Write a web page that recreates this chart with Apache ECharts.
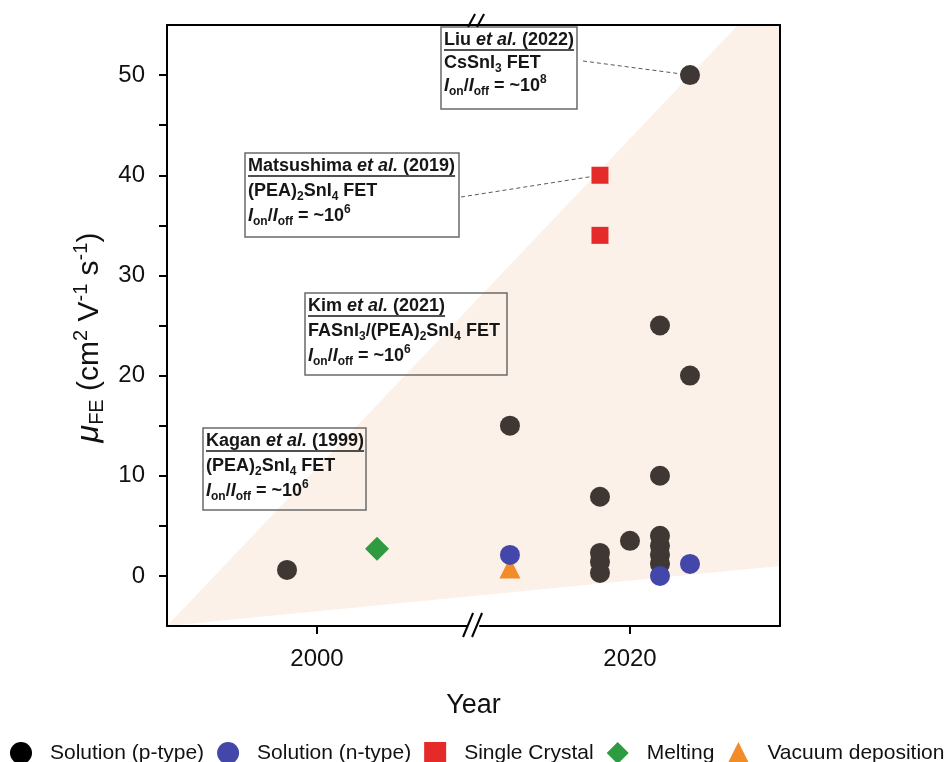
<!DOCTYPE html>
<html><head><meta charset="utf-8">
<script src="https://cdn.jsdelivr.net/npm/echarts@6/dist/echarts.min.js"></script>
<style>html,body{margin:0;padding:0;background:#fff}#c{width:952px;height:762px}</style>
</head><body><div id="c"></div>
<script>
const FONT = '"Liberation Sans", Arial, Helvetica, sans-serif';

// ---- data ----
const pTypeYears    = [1999, 2016, 2019, 2019, 2019, 2019, 2020, 2021, 2021, 2021, 2021, 2021, 2021, 2022, 2022];
const pTypeMobility = [0.6,  15,   7.9,  2.3,  1.4,  0.3,  3.5,  25,   10,   4.0,  3.0,  2.1,  1.2,  50,   20];
const nTypeYears    = [2016, 2021, 2022];
const nTypeMobility = [2.1,  0.0,  1.2];
const crystalYears    = [2019, 2019];
const crystalMobility = [40,   34];
const meltYears    = [2002];
const meltMobility = [2.7];
const vacYears    = [2016];
const vacMobility = [0.8];
const wedgeYears    = [1995, 2023.6, 2025, 2025];
const wedgeMobility = [-5,   55,     55,   1.0];
const xTickValues = [2000, 2020];
const yLabelValues = [0, 10, 20, 30, 40, 50];
const yTickValues = [0, 5, 10, 15, 20, 25, 30, 35, 40, 45, 50];
const seriesNames = ['Solution (p-type)', 'Solution (n-type)', 'Single Crystal', 'Melting', 'Vacuum deposition'];

const zip = (a, b) => a.map((v, i) => [v, b[i]]);

const chart = echarts.init(document.getElementById('c'), null, {renderer: 'canvas'});

const axisLineStyle = {color: '#000', width: 2};

const option = {
  animation: false,
  backgroundColor: '#fff',
  textStyle: {fontFamily: FONT},
  grid: {left: 167, right: 172, top: 25, bottom: 136, containLabel: false},
  xAxis: [{
    type: 'value', min: 1995, max: 2025, z: 10,
    breaks: [{start: 2005, end: 2015, gap: 0.43}],
    breakArea: {show: false},
    axisLine: {show: true, onZero: false, lineStyle: axisLineStyle},
    axisTick: {show: true, customValues: xTickValues, length: 8, inside: false, lineStyle: {color: '#000', width: 2}},
    axisLabel: {customValues: xTickValues, fontSize: 24, color: '#111', fontFamily: FONT, margin: 21,
                formatter: v => String(Math.round(v))},
    splitLine: {show: false},
    name: 'Year', nameLocation: 'middle', nameGap: 66,
    nameTextStyle: {fontSize: 27, color: '#111', fontFamily: FONT}
  }, {
    type: 'value', position: 'top', min: 0, max: 1, z: 10,
    axisLine: {show: true, onZero: false, lineStyle: axisLineStyle},
    axisTick: {show: false}, axisLabel: {show: false}, splitLine: {show: false}
  }],
  yAxis: [{
    type: 'value', min: -5, max: 55, interval: 5, z: 10,
    axisLine: {show: true, onZero: false, lineStyle: axisLineStyle},
    axisTick: {show: true, customValues: yTickValues, length: 8, inside: false, lineStyle: {color: '#000', width: 2}},
    axisLabel: {customValues: yLabelValues, fontSize: 24, color: '#111', fontFamily: FONT, margin: 22},
    splitLine: {show: false},
    name: '{i|μ}{sub|FE}{n| (cm}{sup|2}{n| V}{sup|-1}{n| s}{sup|-1}{n|)}',
    nameLocation: 'middle', nameRotate: 90, nameGap: 56,
    nameTextStyle: {
      fontSize: 30, color: '#111', fontFamily: FONT, padding: [0, 24, 0, 0],
      rich: {
        i: {fontSize: 32, fontStyle: 'italic', color: '#111', fontFamily: FONT, lineHeight: 36, verticalAlign: 'middle'},
        n: {fontSize: 30, color: '#111', fontFamily: FONT, lineHeight: 36, verticalAlign: 'middle'},
        sub: {fontSize: 20, color: '#111', fontFamily: FONT, lineHeight: 20, verticalAlign: 'bottom'},
        sup: {fontSize: 20, color: '#111', fontFamily: FONT, lineHeight: 20, verticalAlign: 'top'}
      }
    }
  }, {
    type: 'value', position: 'right', min: 0, max: 1, z: 10,
    axisLine: {show: true, onZero: false, lineStyle: axisLineStyle},
    axisTick: {show: false}, axisLabel: {show: false}, splitLine: {show: false}
  }],
  legend: {
    left: 5, right: 0, top: 737, itemWidth: 22, itemHeight: 22, itemGap: 13,
    textStyle: {fontSize: 21, color: '#111', fontFamily: FONT, padding: [0, 0, 0, 13]},
    data: [
      {name: seriesNames[0], icon: 'circle', itemStyle: {color: '#000'}},
      {name: seriesNames[1], icon: 'circle'},
      {name: seriesNames[2], icon: 'rect'},
      {name: seriesNames[3], icon: 'diamond'},
      {name: seriesNames[4], icon: 'triangle'}
    ]
  },
  series: [
    {
      name: 'wedge', type: 'custom', z: 1, silent: true,
      data: zip(wedgeYears, wedgeMobility),
      renderItem: function (params, api) {
        if (params.dataIndex !== 0) return null;
        const pts = wedgeYears.map((y, i) => api.coord([y, wedgeMobility[i]]));
        return {type: 'polygon', shape: {points: pts}, style: {fill: '#fcf1e8'}};
      }
    },
    {name: seriesNames[0], type: 'scatter', z: 3, symbol: 'circle', symbolSize: 20,
     itemStyle: {color: '#3e3733', opacity: 1}, data: zip(pTypeYears, pTypeMobility)},
    {name: seriesNames[4], type: 'scatter', z: 3, symbol: 'triangle', symbolSize: 21,
     itemStyle: {color: '#f28c28', opacity: 1}, data: zip(vacYears, vacMobility)},
    {name: seriesNames[1], type: 'scatter', z: 4, symbol: 'circle', symbolSize: 20,
     itemStyle: {color: '#4347aa', opacity: 1}, data: zip(nTypeYears, nTypeMobility)},
    {name: seriesNames[2], type: 'scatter', z: 3, symbol: 'rect', symbolSize: 17,
     itemStyle: {color: '#e52a2a', opacity: 1}, data: zip(crystalYears, crystalMobility)},
    {name: seriesNames[3], type: 'scatter', z: 3, symbol: 'diamond', symbolSize: 24,
     itemStyle: {color: '#2e9b41', opacity: 1}, data: zip(meltYears, meltMobility)}
  ]
};
chart.setOption(option);

// ---- annotations ----
const notes = [
  {t: ['Liu ', 'et al.', ' (2022)'], l2: '{b|CsSnI}{sub|3}{b| FET}', exp: '8', target: [2022, 50],
   box: [441, 27, 136, 82], anchor: [583, 61], lh: 23},
  {t: ['Matsushima ', 'et al.', ' (2019)'], l2: '{b|(PEA)}{sub|2}{b|SnI}{sub|4}{b| FET}', exp: '6', target: [2019, 40],
   box: [245, 153, 214, 84], anchor: [461, 197], lh: 25},
  {t: ['Kim ', 'et al.', ' (2021)'], l2: '{b|FASnI}{sub|3}{b|/(PEA)}{sub|2}{b|SnI}{sub|4}{b| FET}', exp: '6', target: [2021, 25],
   box: [305, 293, 202, 82], anchor: [509, 338], lh: 25},
  {t: ['Kagan ', 'et al.', ' (1999)'], l2: '{b|(PEA)}{sub|2}{b|SnI}{sub|4}{b| FET}', exp: '6', target: [1999, 0.6],
   box: [203, 428, 163, 82], anchor: [292, 512], lh: 25}
];
const TC = '#161616';
const rich = {
  b: {fontSize: 18, fontWeight: 'bold', fontFamily: FONT, fill: TC, lineHeight: 24, verticalAlign: 'middle'},
  bi: {fontSize: 18, fontWeight: 'bold', fontStyle: 'italic', fontFamily: FONT, fill: TC, lineHeight: 24, verticalAlign: 'middle'},
  sub: {fontSize: 12, fontWeight: 'bold', fontFamily: FONT, fill: TC, lineHeight: 12, verticalAlign: 'bottom'},
  sup: {fontSize: 12, fontWeight: 'bold', fontFamily: FONT, fill: TC, lineHeight: 12, verticalAlign: 'top'}
};
const cv = document.createElement('canvas').getContext('2d');
function w(txt, italic) { cv.font = (italic ? 'italic ' : '') + 'bold 18px ' + FONT; return cv.measureText(txt).width; }

const g = [];
notes.forEach(n => {
  const [bx, by, bw, bh] = n.box;
  g.push({type: 'rect', shape: {x: bx, y: by, width: bw, height: bh},
          style: {fill: 'rgba(0,0,0,0)', stroke: '#6a6a6a', lineWidth: 1.5}, z: 5});
  const tx = bx + 3, y1 = by + 13;
  g.push({type: 'text', x: tx, y: y1, z: 6, style: {
    text: '{b|' + n.t[0] + '}{bi|' + n.t[1] + '}{b|' + n.t[2] + '}', rich: rich,
    verticalAlign: 'middle', align: 'left', fill: TC}});
  const uw = w(n.t[0]) + w(n.t[1], true) + w(n.t[2]);
  g.push({type: 'line', z: 6, shape: {x1: tx, y1: y1 + 10, x2: tx + uw, y2: y1 + 10}, style: {stroke: TC, lineWidth: 1.5}});
  g.push({type: 'text', x: tx, y: y1 + n.lh, z: 6, style: {text: n.l2, rich: rich, verticalAlign: 'middle', align: 'left', fill: TC}});
  g.push({type: 'text', x: tx, y: y1 + 2 * n.lh, z: 6, style: {
    text: '{bi|I}{sub|on}{b|/}{bi|I}{sub|off}{b| = ~10}{sup|' + n.exp + '}', rich: rich,
    verticalAlign: 'middle', align: 'left', fill: TC}});
  const p = chart.convertToPixel({xAxisIndex: 0, yAxisIndex: 0}, n.target);
  g.push({type: 'line', z: 0, shape: {x1: n.anchor[0], y1: n.anchor[1], x2: p[0], y2: p[1]},
          style: {stroke: '#5a5a5a', lineWidth: 1, lineDash: [4, 3]}});
});
// axis break marks "//"
const bb = chart.convertToPixel({xAxisIndex: 0, yAxisIndex: 0}, [2005, -5]);
const bxm = bb[0] + 6;
[[-10, 0], [-1, 0]].forEach(([dx]) => {
  g.push({type: 'line', z: 20, shape: {x1: bxm + dx, y1: 637, x2: bxm + dx + 10, y2: 613}, style: {stroke: '#000', lineWidth: 2}});
});
[[-5, 0], [4, 0]].forEach(([dx]) => {
  g.push({type: 'line', z: 20, shape: {x1: bxm + dx, y1: 27, x2: bxm + dx + 7, y2: 14}, style: {stroke: '#000', lineWidth: 2}});
});
chart.setOption({graphic: {elements: g}});
</script>
</body></html>
